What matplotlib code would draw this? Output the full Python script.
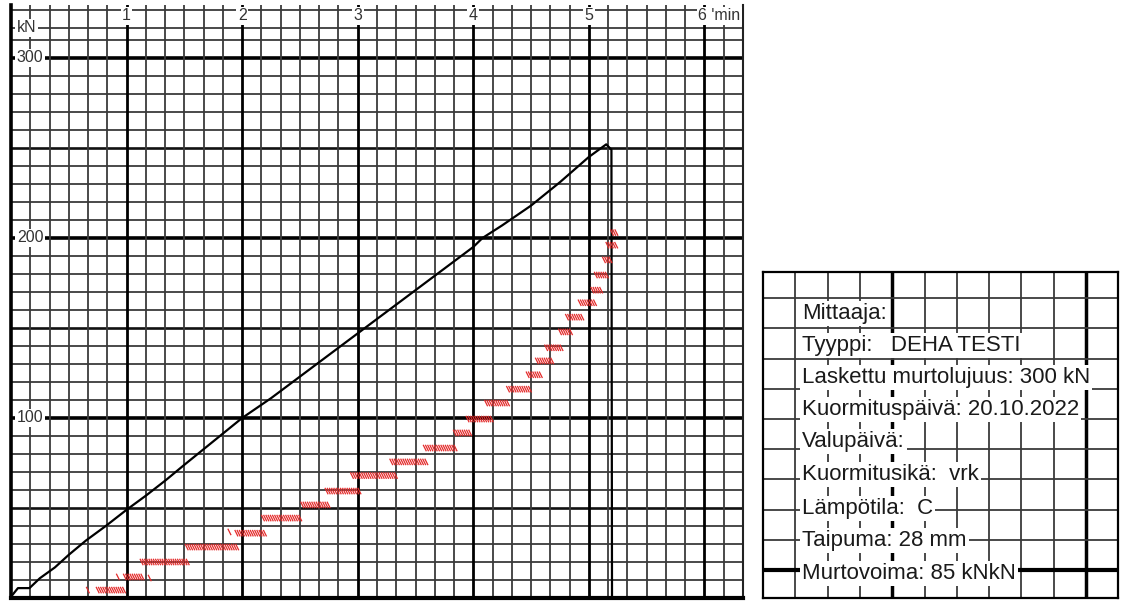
import numpy as np
import matplotlib.pyplot as plt
from matplotlib.collections import LineCollection

plt.rcParams['font.family'] = ['Liberation Sans', 'DejaVu Sans']

# load curve, time in minutes / force in kN
load_t = [0.0, 0.06, 0.16, 0.25, 0.38, 0.5, 0.65, 0.82, 1.0, 1.17, 1.34, 1.5,
          1.75, 2.0, 2.25, 2.5, 2.75, 3.0, 3.25, 3.5, 3.75, 4.0, 4.08, 4.25,
          4.5, 4.75, 5.0, 5.15, 5.195, 5.2]
load_kn = [0.7, 5.5, 5.5, 11, 17, 24, 32, 40, 49, 57, 65.5, 74,
           87, 100, 111, 123, 135, 147, 159, 171, 183, 195, 200, 207,
           218, 231, 245, 252, 249, 0]

# red marks: start time, end time (min) and level (kN)
mark_t0 = [0.665, 0.75, 0.925, 0.985, 1.2, 1.13, 1.52, 1.89, 1.95, 2.18,
           2.52, 2.73, 2.95, 3.29, 3.58, 3.84, 3.95, 4.11, 4.3, 4.47,
           4.55, 4.63, 4.75, 4.81, 4.92, 5.03, 5.06, 5.13, 5.16, 5.2]
mark_t1 = [0.665, 0.985, 0.925, 1.14, 1.2, 1.53, 1.96, 1.89, 2.2, 2.52,
           2.76, 3.02, 3.34, 3.6, 3.86, 3.99, 4.16, 4.31, 4.5, 4.59,
           4.7, 4.77, 4.86, 4.96, 5.06, 5.11, 5.16, 5.2, 5.24, 5.25]
mark_kn = [4.4, 4.4, 11.7, 11.7, 11.1, 20, 28.3, 36.7, 36, 44.4,
           51.7, 59.4, 68, 75.6, 83.3, 91.7, 99.4, 108.3, 116, 124,
           131.7, 139, 147.8, 156, 164, 171, 179.4, 187.8, 196, 203]

min_ticks = [1, 2, 3, 4, 5]
kn_ticks = [100, 200, 300]

info_lines = ["Mittaaja:", "Tyyppi:   DEHA TESTI", "Laskettu murtolujuus: 300 kN",
              "Kuormituspäivä: 20.10.2022", "Valupäivä:", "Kuormitusikä:  vrk",
              "Lämpötila:  C", "Taipuma: 28 mm", "Murtovoima: 85 kNkN"]
info_rows = [8.5, 7.45, 6.36, 5.3, 4.24, 3.15, 2.05, 0.99, -0.1]

fig = plt.figure(figsize=(11.23, 6.01), dpi=100)

# main chart
ax = fig.add_axes([11 / 1123, 3 / 601, 732 / 1123, 593 / 601])
ax.set_xlim(0, 38 / 6)
ax.set_ylim(0, 329.4)
ax.axis('off')

thin = '#3a3a3a'
for v in range(10, 320, 10):
    if v % 100 == 0:
        ax.axhline(v, color='black', lw=2.6, zorder=1)
    elif v % 50 == 0:
        ax.axhline(v, color='#111111', lw=1.9, zorder=1)
    else:
        ax.axhline(v, color=thin, lw=1.3, zorder=1)
ax.axhline(316.7, color=thin, lw=1.3, zorder=1)
ax.axhline(326.7, color=thin, lw=1.3, zorder=1)

for i in range(1, 38):
    if i % 6 == 0:
        ax.axvline(i / 6, color='black', lw=2.0, zorder=1)
    else:
        ax.axvline(i / 6, color=thin, lw=1.3, zorder=1)

ax.axvline(0, color='black', lw=2.6, zorder=3, clip_on=False)
ax.axvline(38 / 6, color='#222222', lw=1.5, zorder=3, clip_on=False)
ax.axhline(0, color='black', lw=3.0, zorder=3, clip_on=False)

lab = dict(fontsize=11.5, color='#333333', va='center', zorder=4,
           bbox=dict(fc='white', ec='none', pad=1.0))
for m in min_ticks:
    ax.text(m, 323.5, str(m), ha='center', **lab)
ax.text(5.946, 323.5, "6 'min", ha='left', **lab)
ax.text(0.05, 316.7, 'kN', ha='left', **lab)
for v in kn_ticks:
    ax.text(0.05, v, str(v), ha='left', **lab)

ax.plot(load_t, load_kn, color='black', lw=1.6, zorder=5)

segs = []
for t0, t1, k in zip(mark_t0, mark_t1, mark_kn):
    xs = np.arange(t0, t1 + 1e-9, 0.019) if t1 > t0 else [t0]
    for x in xs:
        segs.append([(x - 0.014, k + 1.8), (x + 0.014, k - 1.8)])
ax.add_collection(LineCollection(segs, colors='#e42a2a', linewidths=0.9, zorder=6))

# info panel
pax = fig.add_axes([763 / 1123, 3 / 601, 355.3 / 1123, 326 / 601])
pax.set_xlim(0, 11)
pax.set_ylim(-0.927, 9.868)
pax.axis('off')

for i in range(1, 11):
    pax.axvline(i, color='black' if i in (4, 10) else thin,
                lw=2.5 if i in (4, 10) else 1.3, zorder=1)
for j in range(0, 10):
    pax.axhline(j, color='black' if j == 0 else thin,
                lw=3.0 if j == 0 else 1.3, zorder=1)
for x in (0, 11):
    pax.axvline(x, color='black', lw=1.6, zorder=3, clip_on=False)
for y in (-0.927, 9.868):
    pax.axhline(y, color='black', lw=1.6, zorder=3, clip_on=False)

for txt, row in zip(info_lines, info_rows):
    pax.text(1.21, row, txt, fontsize=16, ha='left', va='center', color='#1a1a1a',
             zorder=4, bbox=dict(fc='white', ec='none', pad=1.5))

fig.savefig('out.png', dpi=100)
